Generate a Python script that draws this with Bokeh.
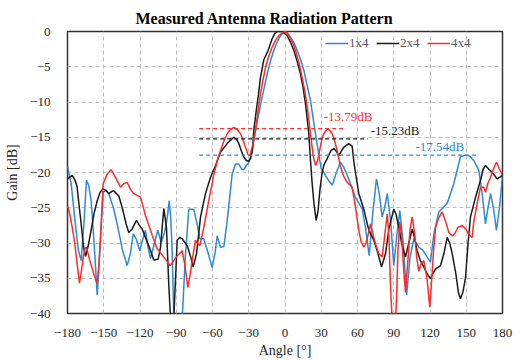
from bokeh.plotting import figure
from bokeh.models import Range1d, FixedTicker, Legend, LegendItem, Label, Title
from bokeh.embed import file_html
from bokeh.resources import INLINE

# ---------------- data ----------------
angle_1x4 = [-180, -177, -174, -171, -168.7, -166.5, -164.3, -162.5, -160.4, -158, -155.4, -153, -150.5, -148,
             -145.8, -142, -138.9, -134.5, -130.6, -128, -125.6, -123, -120.2, -117.8, -115.5, -113.5, -111.3,
             -108, -105.3, -102.5, -99.7, -97.5, -95.8, -94.5, -93.4, -92, -88.5, -85, -82.5, -79.6, -75.5,
             -72.5, -70.5, -67.2, -63.5, -60.3, -58, -56.1, -53.4, -50.6, -47.8, -43.7, -41, -38.2, -36, -34.1,
             -32, -30, -27.1, -24.4, -21.5, -18.9, -16.5, -14.7, -12, -9.3, -6.5, -3.7, -1.5, 0.4, 2.5, 4.6,
             7.5, 10.1, 12.8, 15.6, 18.4, 21.1, 23, 25.2, 28, 30, 32.1, 35.5, 39.1, 42.5, 45.9, 48.5, 51.5,
             54.2, 58.3, 61, 63.9, 66.6, 69.7, 72.5, 75.7, 78, 80.4, 82.5, 84.6, 87.5, 90, 92.5, 95, 97.8,
             100.6, 103.5, 106.6, 110.7, 114, 117.7, 120.4, 123.2, 127.3, 134.2, 139.7, 145.2, 149.4, 153,
             156.2, 160.4, 163.2, 165.9, 168, 170.1, 172.5, 175, 177.5, 180]
gain_1x4 = [-19.2, -21.5, -26.5, -31, -32.5, -27.5, -21.1, -21.8, -24, -30, -37.4, -30.5, -22.8, -22.5,
            -23.0, -25, -27.3, -31, -33.2, -31.5, -28.7, -29.5, -31.1, -29.5, -28.2, -30.5, -32.2,
            -30, -28.2, -29.9, -28.5, -26.5, -24.0, -26.5, -31.1, -40.5, -44, -40.5, -32, -25.2, -25.2,
            -27.5, -29.4, -29.4, -31.5, -33.5, -31.5, -29.0, -30.6, -30.5, -26.8, -20.2, -18.8, -18.8, -19.5, -19.6,
            -19, -18.6, -17.0, -14.0, -11.5, -9.3, -7.4, -6.0, -4.2, -2.7, -1.5, -0.6, -0.2, 0, -0.3, -0.8,
            -1.6, -2.7, -3.9, -5.5, -7.7, -9.8, -12, -14.5, -17.5, -19.5, -20.0, -21, -21.8, -20, -18.5, -19.2, -20.4,
            -21.6, -23.5, -24.3, -25.2, -27.8, -31.8, -26, -20.9, -23, -26.3, -25, -23.0, -27, -33.2, -29, -25.4, -30,
            -37.4, -32, -29.4, -30.6, -31, -32, -32.7, -28.7, -25.6, -24.4, -21.6, -17.8, -17.5, -17.7,
            -18.3, -19.7, -23, -27.3, -25, -23.0, -25, -28.2, -25, -20.5]

angle_2x4 = [-180, -176.1, -173.5, -172, -170.5, -168.7, -166.8, -165.1, -163, -161, -158, -155.4, -153, -150.5,
             -148, -145.8, -143.5, -141.7, -139.5, -137.6, -135.5, -133.4, -131.5, -129.3, -126.5, -122.9, -120.5,
             -118.2, -115.5, -112.7, -108.6, -105, -103, -101.5, -100.3, -98.1, -96.2, -94.8, -93.4, -92, -89.2,
             -87, -85.1, -80.9, -78, -76, -73.2, -69.9, -65.8, -61.7, -57.5, -53.4, -47.8, -45, -42.4, -40, -38.2,
             -36, -34.1, -32, -30, -28.5, -27.1, -25.8, -24, -22, -20.3, -17.5, -14, -10.6, -8.5, -6.5, -2.3, 1.8,
             4.5, 7.3, 10, 12.8, 15, 17, 19.7, 21.1, 22.5, 24, 25.8, 27.3, 28.8, 30.5, 32.1, 35, 38, 40.4, 42.5,
             44.5, 46.5, 48.7, 52.8, 55.6, 57, 58.3, 61.1, 65.2, 69.4, 73.5, 76.3, 79.9, 83.2, 86, 90, 92, 94.2,
             96.5, 99.7, 102.5, 105.3, 107.5, 109.4, 112, 114.9, 117.5, 120.4, 122.5, 124.6, 128.7, 131.5, 134.2,
             136.3, 138.4, 141.5, 143.5, 145.2, 147.2, 149.4, 151.5, 153.5, 157.7, 161.8, 164, 165.9, 168.5,
             171.5, 175.6, 180]
gain_2x4 = [-20.9, -20.4, -21.2, -22.1, -24.5, -27.3, -30.5, -31.9, -30.5, -28.7, -25.8, -24, -22.8, -22.3,
            -22.6, -23, -22.7, -22.6, -23, -23.3, -24.5, -25.9, -27.3, -28.5, -28, -26.8, -27.5,
            -28, -29.2, -30.4, -32.4, -32.3, -30.6, -27.5, -25.1, -27.8, -35.8, -40.5, -44, -40.5, -29.6,
            -29.2, -29.4, -30.4, -32, -33.4, -31.5, -26.3, -23, -20.7, -19.0, -17.1, -15.9, -15.4, -15.0, -15.3, -15.9,
            -17, -17.8, -18.3, -18.4, -18, -17, -14, -11.5, -9, -6.5, -4.0, -2.7, -1.0, -0.3, 0, 0, -0.6,
            -1.5, -2.7, -4.2, -6, -8, -10.3, -14.5, -18.3, -21.6, -24.5, -26.8, -25.5, -22.6, -20.3, -19, -18, -16.9, -16.6, -17.0,
            -17.6, -17, -16.4, -15.9, -16.3, -18.5, -20, -23, -25.2, -28.2, -29.6, -31.1, -33.4, -31.5, -28, -25.2, -26, -27.8,
            -30, -32, -30, -28, -29.5, -31.1, -32.5, -33.4, -34.3, -35.1, -34.3, -33.7, -33.2, -31.5, -29.2,
            -30, -31.5, -34.5, -37, -37.9, -37, -34.9, -30, -26.3, -23.5, -21.1, -19.5, -19.0, -19.5,
            -20.0, -20.9, -20.4]

angle_4x4 = [-180, -178, -176.1, -174, -172, -170.1, -168.5, -167, -165.5, -164.3, -163, -161.5, -158.2, -155.4,
             -154, -152.7, -151.5, -150.5, -147.1, -143.8, -140.3, -136.1, -133.5, -130.6, -127.5, -125.1, -119.6,
             -117.5, -115.5, -109.9, -105.8, -100.3, -95, -90, -85.1, -83, -80.4, -78.5, -76.8, -74.1, -70.5,
             -67.2, -63.1, -58.9, -55.5, -53.4, -50.5, -47.8, -45, -42.4, -39.5, -36.8, -34.5, -32.7, -30.5, -29.1,
             -27, -24.4, -22.3, -20.3, -18, -16.1, -13.5, -10.6, -8, -5.1, -1, 1.5, 3.1, 6, 8.7, 11.5, 14.2, 16.5,
             18.4, 21.1, 23.3, 25.2, 27, 28.5, 30.5, 32.1, 34.9, 37, 39.1, 41, 43.2, 45.9, 48.5, 51.5, 55.6, 58.3,
             61.1, 63, 65.2, 67, 68, 70.8, 73.5, 75.5, 77.6, 80.4, 82.5, 84.6, 86, 87.3, 88.5, 89.8, 91.5, 92.3,
             93.5, 95, 96.5, 98.3, 99.7, 101.5, 103.5, 105.3, 107.5, 109, 110.7, 112.5, 114.9, 117.5, 119.8,
             121.5, 123, 124.6, 127, 130.1, 133, 135.6, 138.5, 141.1, 143, 146.6, 149.5, 152.1, 154.9, 156.2,
             159, 161.8, 164.5, 165.9, 168, 170.1, 172.5, 175, 177.5, 180]
gain_4x4 = [-24.7, -26, -27.8, -30, -33, -35.7, -34, -32, -30.8, -30.6, -31.5, -32.5, -34.4, -35.8,
            -33, -29.2, -25, -21.6, -20.2, -19.6, -20.7, -22.1, -21.6, -21.4, -22.5, -23, -23.5,
            -24.8, -26.1, -28.9, -30.8, -32, -33.2, -32, -31.1, -33, -36.3, -34.5, -32.5, -29.6, -30.4,
            -27.8, -24, -20.3, -18, -16.9, -15.5, -14.5, -13.9, -13.6, -13.9, -14.5, -15.5, -16.4, -17.5, -17.6,
            -16.3, -14, -11.3, -8.8, -6.7, -5.1, -3.5, -2.2, -1.3, -0.6, 0, -0.2, -0.6, -1.5, -2.7, -4.4, -6.5, -8.6,
            -10.7, -14.5, -17.6, -19, -18.3, -17, -15.3, -14.5, -13.8, -14, -14.5, -15.5, -16.9, -19.2, -20.5, -21.4, -22.1, -24.9,
            -28.2, -29.8, -30.6, -30, -29.4, -27.3, -29.2, -30.5, -31.5, -32, -29, -25.9, -29, -36, -40.5, -44, -41, -38,
            -31, -27, -29, -34, -37, -33, -28, -26.3, -29, -32, -34, -33, -32.5, -35, -39.1,
            -35, -31, -27.8, -26.5, -25.6, -27, -28.5, -29, -28.5, -27.8, -27.5, -28, -28.8, -29.2, -27,
            -24.4, -22.1, -22.1, -22.8, -21.5, -20.7, -19.5, -18.5, -19.5, -20.4]

series_names = ["1x4", "2x4", "4x4"]
peak_levels = [-17.54, -15.23, -13.79]          # side-lobe levels of 1x4, 2x4, 4x4
peak_labels = ["-17.54dB", "-15.23dB", "-13.79dB"]
x_ticks = [-180, -150, -120, -90, -60, -30, 0, 30, 60, 90, 120, 150, 180]
y_ticks = [-40, -35, -30, -25, -20, -15, -10, -5, 0]

# ---------------- style ----------------
FONT = "Liberation Serif"
colors = ["#2E8AD6", "#1A1A1A", "#FF2A2A"]

p = figure(frame_width=435, frame_height=282, output_backend="svg", toolbar_location=None,
           x_range=Range1d(-180, 180), y_range=Range1d(-40, 0),
           min_border_left=67, min_border_right=21, min_border_top=31, min_border_bottom=47,
           background_fill_color="white", border_fill_color="white")

p.title = Title(text="Measured Antenna Radiation Pattern", align="left", offset=68,
                text_font=FONT, text_font_size="16px", text_font_style="bold", text_color="#000000",
                standoff=10)

for ax, ticks in ((p.xaxis[0], x_ticks), (p.yaxis[0], y_ticks)):
    ax.ticker = FixedTicker(ticks=ticks)
    ax.axis_line_color = None
    ax.major_tick_line_color = None
    ax.minor_tick_line_color = None
    ax.major_label_text_font = FONT
    ax.major_label_text_font_size = "13px"
    ax.major_label_text_color = "#262626"
    ax.axis_label_text_font = FONT
    ax.axis_label_text_font_size = "14px"
    ax.axis_label_text_font_style = "normal"
    ax.axis_label_text_color = "#262626"

p.xaxis.axis_label = "Angle [°]"
p.yaxis.axis_label = "Gain [dB]"
p.xaxis.major_label_standoff = 9
p.yaxis.major_label_standoff = 11
p.xaxis.axis_label_standoff = 3
p.yaxis.axis_label_standoff = 7

p.grid.grid_line_color = "#BFBFBF"
p.grid.grid_line_dash = "4 3"
p.grid.grid_line_width = 1
p.xgrid.ticker = FixedTicker(ticks=x_ticks)
p.ygrid.ticker = FixedTicker(ticks=y_ticks)

p.outline_line_color = "#333333"
p.outline_line_width = 1.5

angles = [angle_1x4, angle_2x4, angle_4x4]
gains = [gain_1x4, gain_2x4, gain_4x4]
renderers = []
for a, g, c in zip(angles, gains, colors):
    r = p.line(a, g, line_color=c, line_width=1.5)
    renderers.append(r)

# side-lobe reference lines and labels
line_ends = [158.5, 68.5, 50]
label_x = [108, 71, 32]
label_y_offset = [1.2, 1.2, 1.75]
for lvl, txt, c, xe, lx, dy in zip(peak_levels, peak_labels, colors, line_ends, label_x, label_y_offset):
    p.segment(x0=[-71], y0=[lvl], x1=[xe], y1=[lvl], line_color=c, line_dash="4 3", line_width=1.2)
    p.add_layout(Label(x=lx, y=lvl + dy, text=txt, text_color=c, text_font=FONT,
                       text_font_size="13px", text_baseline="middle"))

legend = Legend(items=[LegendItem(label=n, renderers=[r]) for n, r in zip(series_names, renderers)],
                orientation="horizontal", location=(258, 262), padding=0, margin=0, spacing=7,
                glyph_width=23, glyph_height=16, label_standoff=1, label_height=16,
                label_text_font=FONT, label_text_font_size="13px", label_text_color="#595959",
                background_fill_alpha=0, border_line_alpha=0)
p.add_layout(legend)

open("out.html", "w").write(file_html(p, INLINE))
